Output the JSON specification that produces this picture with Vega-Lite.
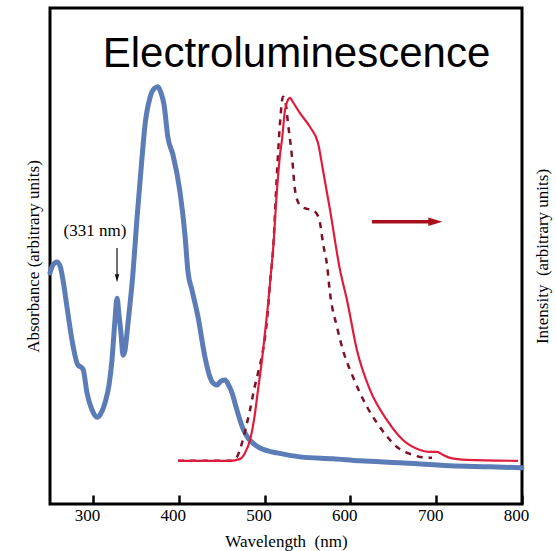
{
  "$schema": "https://vega.github.io/schema/vega-lite/v6.json",
  "width": 472,
  "height": 496,
  "autosize": {"type": "none"},
  "padding": {"left": 50, "top": 8, "right": 34, "bottom": 47},
  "background": "white",
  "config": {
    "view": {"stroke": "black", "strokeWidth": 3},
    "axis": {"grid": false, "domain": false, "labelFont": "Liberation Serif", "titleFont": "Liberation Serif", "labelColor": "black", "titleColor": "black", "titleFontWeight": "normal"}
  },
  "datasets": {
    "abs": [
      {"wl": 250.0, "v": 46.6}, {"wl": 253.5, "v": 48.2}, {"wl": 258.2, "v": 48.8}, {"wl": 261.7, "v": 48.0},
      {"wl": 265.1, "v": 45.2}, {"wl": 269.8, "v": 39.7}, {"wl": 275.6, "v": 33.1}, {"wl": 282.6, "v": 28.0},
      {"wl": 286.1, "v": 27.6}, {"wl": 288.5, "v": 27.2}, {"wl": 293.1, "v": 22.4}, {"wl": 298.9, "v": 19.0},
      {"wl": 304.8, "v": 17.5}, {"wl": 309.4, "v": 18.3}, {"wl": 314.1, "v": 20.4}, {"wl": 318.8, "v": 24.0},
      {"wl": 322.2, "v": 29.0}, {"wl": 325.7, "v": 37.1}, {"wl": 328.1, "v": 41.5}, {"wl": 330.4, "v": 38.1},
      {"wl": 332.7, "v": 34.5}, {"wl": 335.1, "v": 30.0}, {"wl": 337.4, "v": 31.0}, {"wl": 340.9, "v": 36.5},
      {"wl": 346.7, "v": 46.6}, {"wl": 351.4, "v": 57.7}, {"wl": 357.2, "v": 69.8}, {"wl": 360.7, "v": 76.4},
      {"wl": 366.5, "v": 81.9}, {"wl": 371.2, "v": 83.7}, {"wl": 375.8, "v": 84.1}, {"wl": 379.3, "v": 82.9},
      {"wl": 382.8, "v": 80.6}, {"wl": 387.5, "v": 73.8}, {"wl": 393.3, "v": 70.4}, {"wl": 401.5, "v": 62.9},
      {"wl": 407.3, "v": 54.2}, {"wl": 410.8, "v": 46.8}, {"wl": 415.5, "v": 43.1}, {"wl": 422.5, "v": 37.7},
      {"wl": 430.6, "v": 29.6}, {"wl": 436.4, "v": 25.6}, {"wl": 439.9, "v": 24.4}, {"wl": 444.6, "v": 24.0},
      {"wl": 449.3, "v": 24.8}, {"wl": 453.9, "v": 25.0}, {"wl": 458.6, "v": 23.8}, {"wl": 462.1, "v": 22.4},
      {"wl": 466.7, "v": 19.6}, {"wl": 471.4, "v": 16.9}, {"wl": 476.1, "v": 14.7}, {"wl": 480.7, "v": 13.3},
      {"wl": 487.7, "v": 12.1}, {"wl": 494.7, "v": 11.3}, {"wl": 504.0, "v": 10.7}, {"wl": 514.5, "v": 10.3},
      {"wl": 541.3, "v": 9.5}, {"wl": 579.8, "v": 9.1}, {"wl": 611.2, "v": 8.7}, {"wl": 657.8, "v": 8.3},
      {"wl": 716.1, "v": 7.7}, {"wl": 762.7, "v": 7.5}, {"wl": 800.0, "v": 7.3}
    ],
    "el": [
      {"wl": 399.2, "v": 8.7}, {"wl": 424.8, "v": 8.7}, {"wl": 459.7, "v": 8.7}, {"wl": 471.4, "v": 9.1},
      {"wl": 477.2, "v": 10.3}, {"wl": 483.1, "v": 12.9}, {"wl": 487.7, "v": 16.9}, {"wl": 492.4, "v": 23.0},
      {"wl": 497.0, "v": 29.0}, {"wl": 500.5, "v": 34.5}, {"wl": 504.0, "v": 40.1}, {"wl": 506.4, "v": 44.6},
      {"wl": 509.9, "v": 51.2}, {"wl": 514.5, "v": 63.3}, {"wl": 518.0, "v": 70.4}, {"wl": 520.3, "v": 73.4},
      {"wl": 523.8, "v": 79.4}, {"wl": 527.3, "v": 81.5}, {"wl": 529.7, "v": 81.9}, {"wl": 533.2, "v": 81.0},
      {"wl": 541.3, "v": 78.8}, {"wl": 553.0, "v": 76.0}, {"wl": 562.3, "v": 72.8}, {"wl": 568.1, "v": 67.3},
      {"wl": 576.3, "v": 59.3}, {"wl": 587.9, "v": 47.2}, {"wl": 596.1, "v": 41.1}, {"wl": 607.7, "v": 31.0},
      {"wl": 622.9, "v": 23.0}, {"wl": 642.7, "v": 16.9}, {"wl": 661.3, "v": 12.9}, {"wl": 681.1, "v": 10.9},
      {"wl": 692.8, "v": 10.5}, {"wl": 701.0, "v": 10.5}, {"wl": 708.0, "v": 9.9}, {"wl": 716.1, "v": 9.3},
      {"wl": 735.9, "v": 8.9}, {"wl": 795.3, "v": 8.7}
    ],
    "el2": [
      {"wl": 399.2, "v": 8.7}, {"wl": 424.8, "v": 8.7}, {"wl": 462.1, "v": 8.7}, {"wl": 467.9, "v": 9.5},
      {"wl": 473.7, "v": 12.3}, {"wl": 478.4, "v": 15.5}, {"wl": 483.1, "v": 19.0}, {"wl": 487.7, "v": 23.0},
      {"wl": 492.4, "v": 26.4}, {"wl": 498.2, "v": 31.0}, {"wl": 502.9, "v": 37.1}, {"wl": 506.4, "v": 44.6},
      {"wl": 509.9, "v": 51.2}, {"wl": 514.5, "v": 66.7}, {"wl": 518.0, "v": 76.8}, {"wl": 521.5, "v": 82.1},
      {"wl": 525.0, "v": 80.4}, {"wl": 527.3, "v": 76.8}, {"wl": 532.0, "v": 70.0}, {"wl": 535.5, "v": 63.3},
      {"wl": 539.0, "v": 60.9}, {"wl": 543.6, "v": 59.9}, {"wl": 549.5, "v": 59.5}, {"wl": 555.3, "v": 59.3},
      {"wl": 560.0, "v": 58.7}, {"wl": 564.6, "v": 56.7}, {"wl": 568.1, "v": 52.6}, {"wl": 572.8, "v": 48.2},
      {"wl": 576.3, "v": 42.5}, {"wl": 584.4, "v": 35.7}, {"wl": 591.4, "v": 31.0}, {"wl": 603.1, "v": 25.6},
      {"wl": 619.4, "v": 19.6}, {"wl": 634.5, "v": 15.5}, {"wl": 654.3, "v": 11.5}, {"wl": 673.0, "v": 9.9},
      {"wl": 690.5, "v": 9.3}, {"wl": 695.1, "v": 9.3}
    ],
    "arrows": [
      {"x1": 625.2, "x2": 699.0, "y1": 56.9, "y2": 56.9, "c": "red"},
      {"x1": 328.1, "x2": 328.1, "y1": 51.6, "y2": 45.5, "c": "black"}
    ],
    "labels": [
      {"wl": 537.2, "v": 88.1, "t": "Electroluminescence", "kind": "title"},
      {"wl": 302.4, "v": 55.0, "t": "(331 nm)", "kind": "note"}
    ]
  },
  "encoding": {
    "x": {"field": "wl", "type": "quantitative",
      "scale": {"domain": [250, 800], "nice": false, "zero": false},
      "axis": {"values": [300, 400, 500, 600, 700, 800], "tickSize": -9, "tickWidth": 2.5, "tickColor": "black",
        "labelFontSize": 17, "labelPadding": 12, "labelOffset": -6, "labelFlush": false, "labelOverlap": false,
        "title": "Wavelength\u00a0 (nm)", "titleFontSize": 17, "titlePadding": 10}}
  },
  "layer": [
    {
      "data": {"name": "abs"},
      "mark": {"type": "line", "color": "#5b7cb6", "strokeWidth": 5, "strokeCap": "round", "strokeJoin": "round", "interpolate": "monotone"},
      "encoding": {
        "y": {"field": "v", "type": "quantitative", "scale": {"domain": [0, 100], "nice": false, "zero": false},
          "axis": {"orient": "left", "ticks": false, "labels": false, "title": "Absorbance (arbitrary units)", "titleFontSize": 17, "titlePadding": 8}}
      }
    },
    {
      "data": {"name": "el2"},
      "mark": {"type": "line", "color": "#7d1226", "strokeWidth": 2.5, "strokeDash": [6, 6], "interpolate": "monotone"},
      "encoding": {
        "y": {"field": "v", "type": "quantitative", "axis": null}
      }
    },
    {
      "data": {"name": "el"},
      "mark": {"type": "line", "color": "#e01c3c", "strokeWidth": 2.2, "interpolate": "monotone"},
      "encoding": {
        "y": {"field": "v", "type": "quantitative",
          "axis": {"orient": "right", "ticks": false, "labels": false, "title": "Intensity\u00a0 (arbitrary units)", "titleFontSize": 17, "titleAngle": -90, "titleBaseline": "top", "titlePadding": 12}}
      }
    },
    {
      "data": {"name": "arrows"},
      "mark": {"type": "rule"},
      "encoding": {
        "x": {"field": "x1", "type": "quantitative"},
        "x2": {"field": "x2"},
        "y": {"field": "y1", "type": "quantitative", "axis": null},
        "y2": {"field": "y2"},
        "color": {"field": "c", "type": "nominal", "scale": {"domain": ["red", "black"], "range": ["#a8101e", "#111111"]}, "legend": null},
        "strokeWidth": {"field": "c", "type": "nominal", "scale": {"domain": ["red", "black"], "range": [3.5, 1.2]}, "legend": null}
      }
    },
    {
      "data": {"name": "arrows"},
      "transform": [{"filter": "datum.c == 'red'"}],
      "mark": {"type": "point", "filled": true, "color": "#a8101e", "opacity": 1, "size": 196, "shape": "M-1,-0.62L1,0L-1,0.62Z", "strokeWidth": 0},
      "encoding": {
        "x": {"field": "x2", "type": "quantitative"},
        "y": {"field": "y2", "type": "quantitative", "axis": null}
      }
    },
    {
      "data": {"name": "arrows"},
      "transform": [{"filter": "datum.c == 'black'"}],
      "mark": {"type": "point", "filled": true, "color": "#111111", "opacity": 1, "size": 64, "shape": "M-0.55,-1L0.55,-1L0,1Z", "strokeWidth": 0},
      "encoding": {
        "x": {"field": "x2", "type": "quantitative"},
        "y": {"field": "y2", "type": "quantitative", "axis": null}
      }
    },
    {
      "data": {"name": "labels"},
      "transform": [{"filter": "datum.kind == 'title'"}],
      "mark": {"type": "text", "font": "Liberation Sans", "fontSize": 42, "baseline": "alphabetic", "align": "center", "color": "black"},
      "encoding": {
        "x": {"field": "wl", "type": "quantitative"},
        "y": {"field": "v", "type": "quantitative", "axis": null},
        "text": {"field": "t"}
      }
    },
    {
      "data": {"name": "labels"},
      "transform": [{"filter": "datum.kind == 'note'"}],
      "mark": {"type": "text", "font": "Liberation Serif", "fontSize": 17, "baseline": "middle", "align": "center", "color": "black"},
      "encoding": {
        "x": {"field": "wl", "type": "quantitative"},
        "y": {"field": "v", "type": "quantitative", "axis": null},
        "text": {"field": "t"}
      }
    }
  ],
  "resolve": {"axis": {"y": "independent"}}
}
